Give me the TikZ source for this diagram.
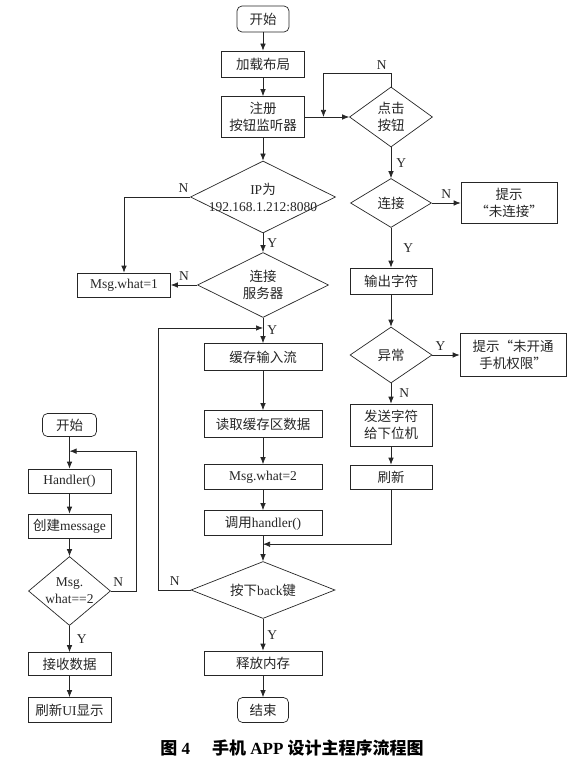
\documentclass[tikz,border=0pt]{standalone}
\usepackage{fontspec}
\setmainfont{Liberation Serif}
\newfontfamily\cjk{Noto Sans CJK SC}
\usetikzlibrary{arrows.meta, shapes.geometric, positioning, calc}

\begin{document}
\begin{tikzpicture}[x=1pt, y=1pt, on grid, color=black!85, line width=0.7pt,
  font=\fontsize{13.5}{17}\selectfont,
  >={Latex[length=7pt, width=5.5pt]},
  zh/.style={font=\cjk\fontsize{13.5}{17.5}\selectfont},
  box/.style={draw, rectangle, align=center, inner sep=2pt},
  term/.style={draw, rectangle, rounded corners=5pt, inner sep=2pt},
  dec/.style={draw, diamond, align=center, inner sep=0pt, aspect=2},
  lab/.style={font=\fontsize{13.5}{15}\selectfont, inner sep=4pt}]
  \useasboundingbox (0,0) rectangle (577,-770);

  % main column
  \node[term, zh, minimum width=52pt, minimum height=26pt] (start) at (263,-19) {开始};
  \node[box, zh, minimum width=83pt, minimum height=26pt] (load) [below=45pt of start] {加载布局};
  \node[box, zh, minimum width=83pt, minimum height=41pt] (reg) [below=53pt of load] {注册\\按钮监听器};
  \node[dec, inner xsep=-22pt, minimum width=145pt, minimum height=72pt] (ip) [below=80pt of reg] {IP{\cjk 为}\\192.168.1.212:8080};
  \node[dec, zh, minimum width=131pt, minimum height=65pt] (srv) [below=88pt of ip] {连接\\服务器};
  \node[box, zh, minimum width=118pt, minimum height=27pt] (cache) [below=72pt of srv] {缓存输入流};
  \node[box, zh, minimum width=118pt, minimum height=27pt] (read) [below=67pt of cache] {读取缓存区数据};
  \node[box, minimum width=118pt, minimum height=25pt] (msg2) [below=53pt of read] {Msg.what=2};
  \node[box, minimum width=118pt, minimum height=25pt] (call) [below=46pt of msg2] {{\cjk 调用}handler()};
  \node[dec, minimum width=144pt, minimum height=57pt] (back) [below=67pt of call] {{\cjk 按下}back{\cjk 键}};
  \node[box, zh, minimum width=118pt, minimum height=24pt] (free) [below=73pt of back] {释放内存};
  \node[term, zh, minimum width=51pt, minimum height=25pt] (end) [below=47pt of free] {结束};

  % right column
  \node[dec, zh, aspect=1.4, minimum width=83pt, minimum height=60pt] (click) [right=128pt of reg] {点击\\按钮};
  \node[dec, zh, minimum width=81pt, minimum height=49pt] (conn) [below=86pt of click] {连接};
  \node[box, zh, minimum width=96pt, minimum height=41pt] (nc) [right=118pt of conn] {提示\\“未连接”};
  \node[box, zh, minimum width=82pt, minimum height=26pt] (out) [below=78pt of conn] {输出字符};
  \node[dec, zh, minimum width=82pt, minimum height=56pt] (exc) [below=74pt of out] {异常};
  \node[box, zh, minimum width=106pt, minimum height=43pt] (perm) [right=122pt of exc] {提示“未开通\\手机权限”};
  \node[box, zh, minimum width=82pt, minimum height=42pt] (send) [below=70pt of exc] {发送字符\\给下位机};
  \node[box, zh, minimum width=82pt, minimum height=24pt] (refresh) [below=52pt of send] {刷新};
  \node[box, minimum width=93pt, minimum height=24pt] (msg1) [left=139pt of srv] {Msg.what=1};

  % handler column
  \node[term, zh, minimum width=54pt, minimum height=23pt] (hstart) at (69.5,-425) {开始};
  \node[box, minimum width=83pt, minimum height=24pt] (handler) [below=56pt of hstart] {Handler()};
  \node[box, minimum width=83pt, minimum height=24pt] (create) [below=45pt of handler] {{\cjk 创建}message};
  \node[dec, aspect=1.2, inner sep=-2pt, minimum width=82pt, minimum height=69pt] (chk) [below=65pt of create] {Msg.\\what==2};
  \node[box, zh, minimum width=83pt, minimum height=23pt] (recv) [below=73pt of chk] {接收数据};
  \node[box, minimum width=83pt, minimum height=25pt] (ui) [below=46pt of recv] {{\cjk 刷新}UI{\cjk 显示}};

  \coordinate (ret) at ($(reg.east)!0.42!(click.west)$);
  \coordinate (fb) at ($(srv.south)!0.4!(cache.north)$);
  \coordinate (mg) at ($(call.south)!0.33!(back.north)$);
  \coordinate (hl) at ($(hstart.south)!0.45!(handler.north)$);

  \path[->]
  (start) edge (load)
  (load) edge (reg)
  (reg) edge (ip)
  (ip) edge node[lab, right] {Y} (srv)
  (srv) edge node[lab, right] {Y} (cache)
  (cache) edge (read)
  (read) edge (msg2)
  (msg2) edge (call)
  (call) edge (back)
  (back) edge node[lab, right] {Y} (free)
  (free) edge (end)
  (reg) edge (click)
  (click) edge node[lab, right, xshift=1pt] {Y} (conn)
  (conn) edge node[lab, above] {N} (nc)
  (conn) edge node[lab, right, xshift=8pt] {Y} (out)
  (out) edge (exc)
  (exc) edge node[lab, above, pos=0.3] {Y} (perm)
  (exc) edge node[lab, right, xshift=4pt] {N} (send)
  (send) edge (refresh)
  (srv) edge node[lab, above] {N} (msg1)
  (hstart) edge (handler)
  (handler) edge (create)
  (create) edge (chk)
  (chk) edge node[lab, right, xshift=3pt] {Y} (recv)
  (recv) edge (ui);

  \draw[->] (click.north) -- ++(0,13) node[lab, above left] {N} -| (ret);
  \draw[->] (ip.west) -| node[lab, above, pos=0.05] {N} (msg1.north);
  \draw[->] (back.west) -- node[lab, above] {N} ++(-32,0) |- (fb);
  \draw[->] (refresh.south) |- (mg);
  \draw[->] (chk.east) -- node[lab, above, pos=0.3] {N} ++(25,0) |- (hl);

  % caption
  \node[font=\fontsize{17}{19}\selectfont\bfseries, color=black] (cap) at (292,-748)
    {{\cjk 图}~4\hspace{1.3em}{\cjk 手机}~APP~{\cjk 设计主程序流程图}};
\end{tikzpicture}
\end{document}
